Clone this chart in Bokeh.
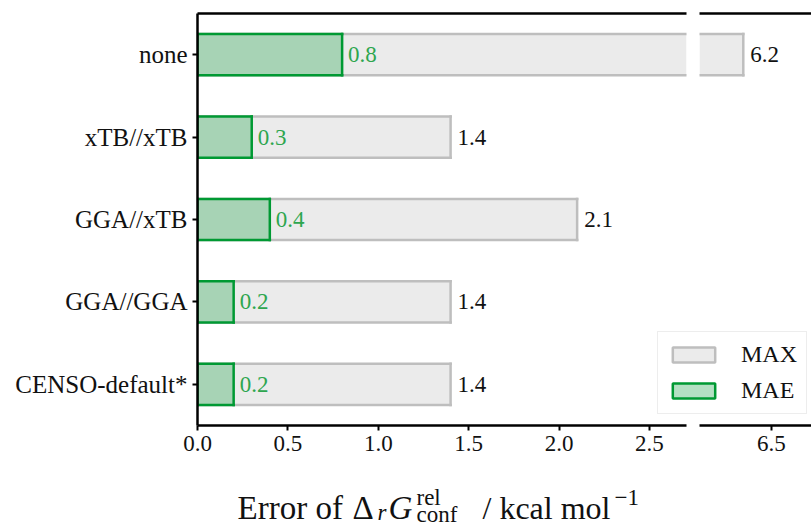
from bokeh.plotting import figure
from bokeh.models import (Range1d, FixedTicker, LinearAxis, Legend, LegendItem,
                          ColumnDataSource, NumeralTickFormatter, CDSView, BooleanFilter)
from bokeh.layouts import row, column
from bokeh.embed import file_html
from bokeh.resources import INLINE
from bokeh.core.properties import value

# ---- data ----
methods = ["none", "xTB//xTB", "GGA//xTB", "GGA//GGA", "CENSO-default*"]
mae = [0.8, 0.3, 0.4, 0.2, 0.2]
maxerr = [6.2, 1.4, 2.1, 1.4, 1.4]
left_ticks = [0.0, 0.5, 1.0, 1.5, 2.0, 2.5]
right_ticks = [6.5]
left_limits = (0.0, 2.705)
right_limits = (5.734, 6.926)

# ---- style ----
FONT = "Liberation Serif"
TXT = "#111111"
MAX_FILL, MAX_LINE = "#ebebeb", "#bebebe"
MAE_FILL, MAE_LINE = "#a7d3b5", "#009933"
MAE_LEG_FILL = "#b4e0c3"
MAE_TXT = "#2ea64f"
HALF = 0.25
LW = 2.5
H_TOP, H_BOT, H_FIG = 13, 45, 470
NAN = float("nan")

ypos = [len(methods) - 1 - i for i in range(len(methods))]


def add_series(p, vals, fill, line, tcolor, lo, hi, xoff):
    n = len(vals)
    s = ColumnDataSource(dict(
        y=ypos, yt=[y + HALF for y in ypos], yb=[y - HALF for y in ypos],
        zero=[0.0] * n, val=vals, txt=[f"{v:.1f}" for v in vals]))
    vis = CDSView(filter=BooleanFilter(booleans=[v > lo for v in vals]))
    inr = CDSView(filter=BooleanFilter(booleans=[lo <= v <= hi for v in vals]))
    p.hbar(y="y", left="zero", right="val", height=2 * HALF, source=s, view=vis,
           fill_color=fill, line_color=None)
    for yy in ("yt", "yb"):
        p.segment(x0="zero", x1="val", y0=yy, y1=yy, source=s, view=vis,
                  line_color=line, line_width=LW, line_cap="square")
    if lo <= 0:
        p.segment(x0="zero", x1="zero", y0="yb", y1="yt", source=s, view=vis,
                  line_color=line, line_width=LW, line_cap="square")
    p.segment(x0="val", x1="val", y0="yb", y1="yt", source=s, view=inr,
              line_color=line, line_width=LW, line_cap="square")
    p.text(x="val", y="y", text="txt", source=s, view=inr, x_offset=xoff,
           text_baseline="middle", text_font=value(FONT), text_font_size="23px",
           text_color=tcolor)


def make_panel(xlim, ticks, width, mbl, mbr, show_y):
    p = figure(x_range=Range1d(*xlim), y_range=Range1d(-0.5, len(methods) - 0.5),
               width=width, height=H_FIG, output_backend="svg", toolbar_location=None,
               min_border_left=mbl, min_border_right=mbr,
               min_border_top=H_TOP, min_border_bottom=H_BOT,
               y_axis_location="left" if show_y else None,
               outline_line_color=None)
    p.grid.visible = False
    add_series(p, maxerr, MAX_FILL, MAX_LINE, TXT, xlim[0], xlim[1], 7)
    add_series(p, mae, MAE_FILL, MAE_LINE, MAE_TXT, xlim[0], xlim[1], 6)

    bx = p.below[0]
    bx.ticker = FixedTicker(ticks=ticks)
    bx.formatter = NumeralTickFormatter(format="0.0")
    bx.minor_tick_line_color = None
    bx.major_tick_out = 5
    bx.major_tick_in = 0
    bx.major_tick_line_width = 2
    bx.axis_line_width = LW
    bx.major_label_standoff = 5
    bx.major_label_text_font = FONT
    bx.major_label_text_font_size = "23px"
    bx.major_label_text_color = TXT

    top = LinearAxis(ticker=FixedTicker(ticks=[]), axis_line_width=LW,
                     major_tick_line_color=None, minor_tick_line_color=None,
                     major_label_text_font_size="0px")
    p.add_layout(top, "above")

    if show_y:
        ya = p.left[0]
        ya.ticker = FixedTicker(ticks=ypos)
        ya.major_label_overrides = {float(y): m for y, m in zip(ypos, methods)}
        ya.minor_tick_line_color = None
        ya.axis_line_width = LW
        ya.major_tick_out = 5
        ya.major_tick_in = 0
        ya.major_tick_line_width = 2
        ya.major_label_standoff = 5
        ya.major_label_text_font = FONT
        ya.major_label_text_font_size = "25px"
        ya.major_label_text_color = TXT
    return p


p1 = make_panel(left_limits, left_ticks, 692, 197, 6, True)
p2 = make_panel(right_limits, right_ticks, 119, 7, 0, False)

# transparent overlay holding the legend (it spans across the axis break)
p3 = figure(x_range=Range1d(0, 1), y_range=Range1d(0, 1), width=160, height=H_FIG,
            output_backend="svg", toolbar_location=None,
            min_border_left=0, min_border_right=0,
            min_border_top=H_TOP, min_border_bottom=H_BOT,
            x_axis_location=None, y_axis_location=None, outline_line_color=None,
            background_fill_color=None, border_fill_color=None,
            margin=(0, 0, 0, -160))
p3.grid.visible = False
# legend proxies (one undrawn row each, so the legend has visuals to show)
lg_max = p3.hbar(y=[NAN], left=[NAN], right=[NAN], height=0.5, fill_color=MAX_FILL,
                 line_color=MAX_LINE, line_width=LW)
lg_mae = p3.hbar(y=[NAN], left=[NAN], right=[NAN], height=0.5, fill_color=MAE_LEG_FILL,
                 line_color=MAE_LINE, line_width=LW)
legend = Legend(items=[LegendItem(label="MAX", renderers=[lg_max]),
                       LegendItem(label="MAE", renderers=[lg_mae])],
                location=(6, 11), margin=0, padding=9, spacing=9,
                glyph_width=53, glyph_height=19, label_standoff=21,
                label_text_font=FONT, label_text_font_size="24px",
                label_text_color=TXT,
                border_line_color="#dcdcdc", border_line_width=1.2,
                background_fill_color="white", background_fill_alpha=0.85)
p3.add_layout(legend)

# x-axis title strip (transparent, overlapping slightly) with sub/superscripts;
# its ranges are pixel-sized so the pieces sit where the reference shows them
STRIP_W, STRIP_H = 811, 90
p4 = figure(x_range=Range1d(0, STRIP_W), y_range=Range1d(0, STRIP_H),
            width=STRIP_W, height=STRIP_H,
            output_backend="svg", toolbar_location=None,
            min_border_left=0, min_border_right=0, min_border_top=0, min_border_bottom=0,
            x_axis_location=None, y_axis_location=None, outline_line_color=None,
            background_fill_color=None, border_fill_color=None,
            margin=(-38, 0, 0, 0))
p4.grid.visible = False
title_pieces = ["Error of", "\u0394", "r", "G", "rel", "conf", "/ kcal mol", "\u22121"]
title_x = [237, 352, 377, 388, 416, 416, 482, 614]
title_y = [15, 15, 10, 15, 25, 8, 15, 25]
title_size = ["33px", "33px", "23px", "33px", "23px", "23px", "32px", "23px"]
title_style = ["normal", "normal", "italic", "italic", "normal", "normal", "normal", "normal"]
p4.text(x=title_x, y=title_y, text=title_pieces, text_font=value(FONT),
        text_font_size=title_size, text_font_style=title_style,
        text_baseline="alphabetic", text_align="left", text_color=TXT)

layout = column(row(p1, p2, p3), p4)
open("out.html", "w").write(file_html(layout, INLINE))
